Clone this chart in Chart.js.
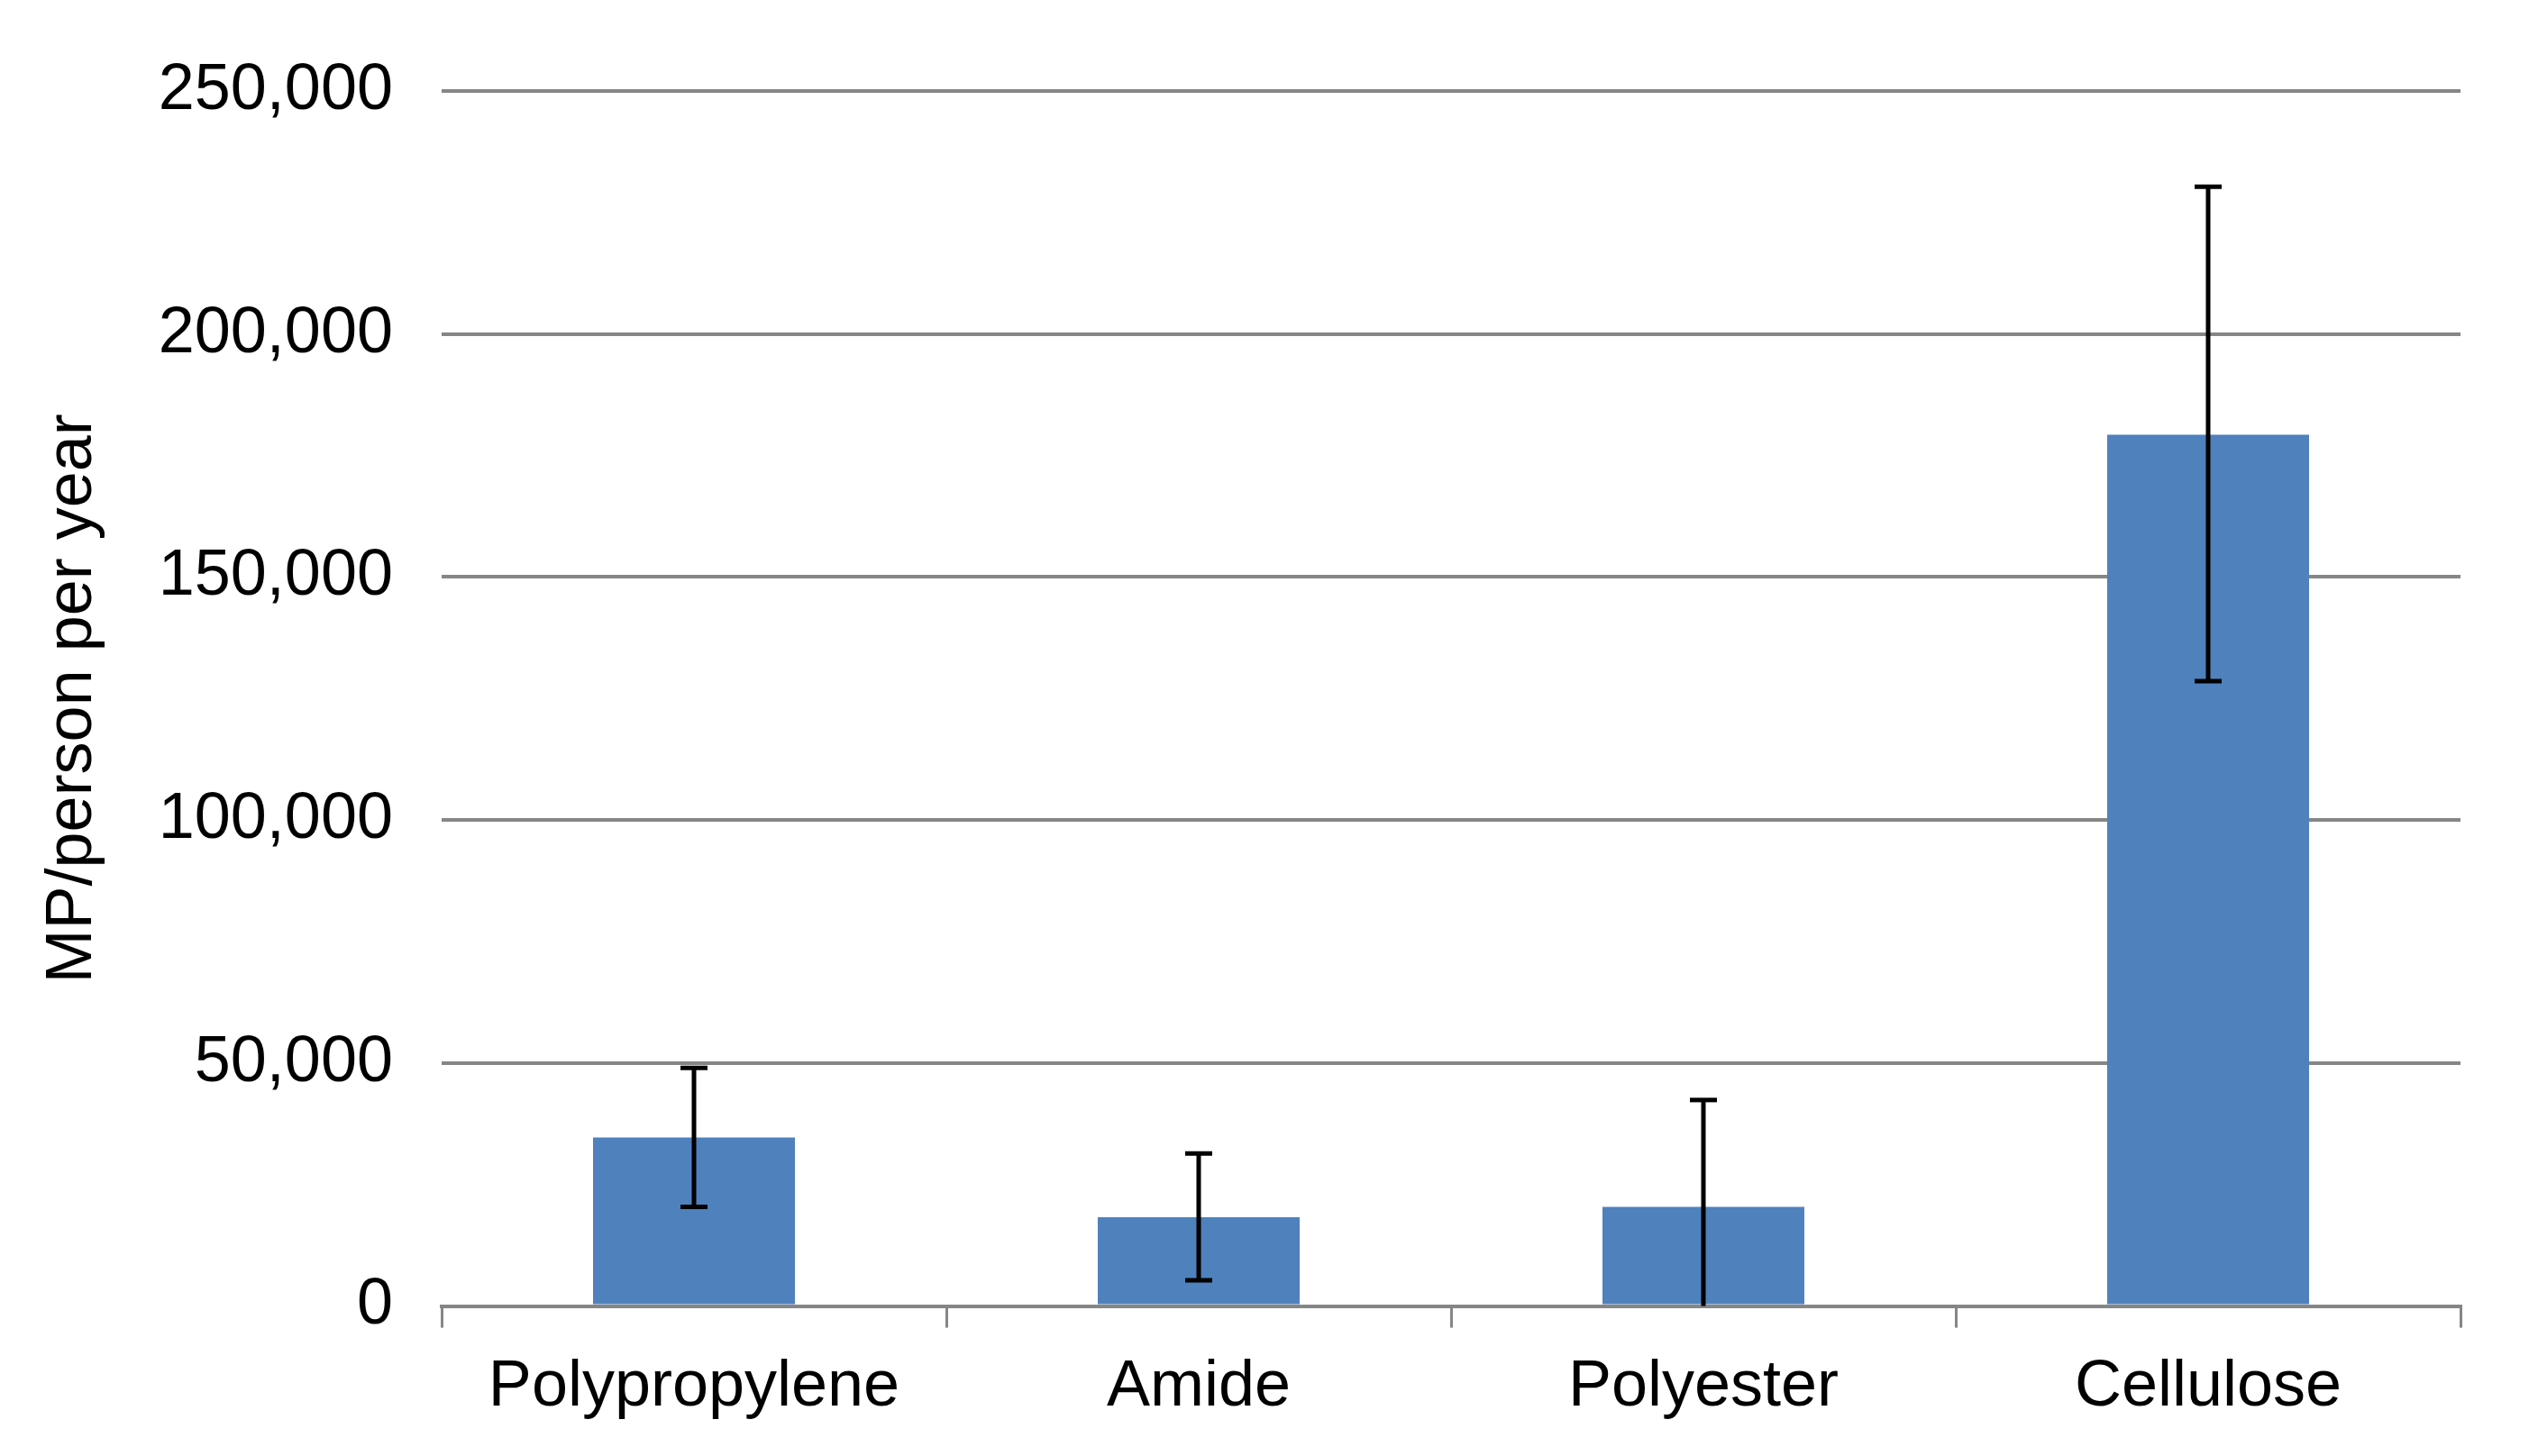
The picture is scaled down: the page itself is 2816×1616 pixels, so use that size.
<!DOCTYPE html>
<html>
<head>
<meta charset="utf-8">
<script src="https://cdn.jsdelivr.net/npm/chart.js@4"></script>
<style>
  html,body{margin:0;padding:0;background:#fff;}
  #wrap{width:2816px;height:1616px;}
</style>
</head>
<body>
<div id="wrap"><canvas id="chartCanvas" width="2816" height="1616"></canvas></div>
<script>
// data
const categories = ['Polypropylene', 'Amide', 'Polyester', 'Cellulose'];
const values = [34700, 18300, 20400, 179300];
const errPlus = [14300, 13100, 22000, 51000];
const errMinus = [14300, 13000, 22000, 50700];
const yTicks = [0, 50000, 100000, 150000, 200000, 250000];

const fontFam = '"Liberation Sans", Arial, sans-serif';

//error bars drawn on top of the bars
const errorBars = {
    id: 'errorBars',
    afterDatasetsDraw(chart) {
        const ctx = chart.ctx;
        const y = chart.scales.y;
        const meta = chart.getDatasetMeta(0);
        const area = chart.chartArea;
        ctx.save();
        ctx.strokeStyle = '#000';
        ctx.lineWidth = 5;
        ctx.lineCap = 'butt';
        meta.data.forEach((bar, i) => {
            const hi = values[i] + errPlus[i];
            const lo = values[i] - errMinus[i];
            const yHi = y.getPixelForValue(hi);
            const yLo = Math.min(y.getPixelForValue(lo), area.bottom);
            ctx.beginPath();
            ctx.moveTo(bar.x, yHi);
            ctx.lineTo(bar.x, yLo);
            ctx.stroke();
            // caps
            ctx.beginPath();
            ctx.moveTo(bar.x - 15, yHi);
            ctx.lineTo(bar.x + 15, yHi);
            if (lo >= y.min) {
                ctx.moveTo(bar.x - 15, yLo);
                ctx.lineTo(bar.x + 15, yLo);
            }
            ctx.stroke();
        });
        ctx.restore();
    }
};

const config = {
    type: 'bar',
    data: {
        labels: categories,
        datasets: [{
            data: values,
            backgroundColor: '#4F81BD',
            borderWidth: 0,
            barPercentage: 0.4,
            categoryPercentage: 1
        }]
    },
    options: {
        responsive: false,
        animation: false,
        layout: { padding: { left: 0, right: 86, top: 101, bottom: 10 } },
        plugins: {
            legend: { display: false },
            tooltip: { enabled: false }
        },
        scales: {
            x: {
                offset: true,
                grid: {
                    offset: true,
                    drawOnChartArea: false,
                    drawTicks: true,
                    tickLength: 24,
                    color: '#868686',
                    lineWidth: 3
                },
                border: { display: true, color: '#868686', width: 4 },
                ticks: {
                    color: '#000',
                    padding: 23,
                    maxRotation: 0,
                    font: { family: fontFam, size: 72 }
                }
            },
            y: {
                min: 0,
                max: 250000,
                afterFit(scale) { scale.width = 490; },
                afterBuildTicks(scale) { scale.ticks = yTicks.map(v => ({ value: v })); },
                grid: {
                    drawTicks: false,
                    color: '#868686',
                    lineWidth: 4
                },
                border: { display: false },
                ticks: {
                    color: '#000',
                    padding: 54,
                    font: { family: fontFam, size: 72 },
                    callback: v => v.toLocaleString('en-US')
                },
                title: {
                    display: true,
                    text: 'MP/person per year',
                    color: '#000',
                    padding: { top: 38, bottom: 0 },
                    font: { family: fontFam, size: 72, lineHeight: 1.2 }
                }
            }
        }
    },
    plugins: [errorBars]
};

var myChart = new Chart(document.getElementById('chartCanvas'), config);
</script>
</body>
</html>
